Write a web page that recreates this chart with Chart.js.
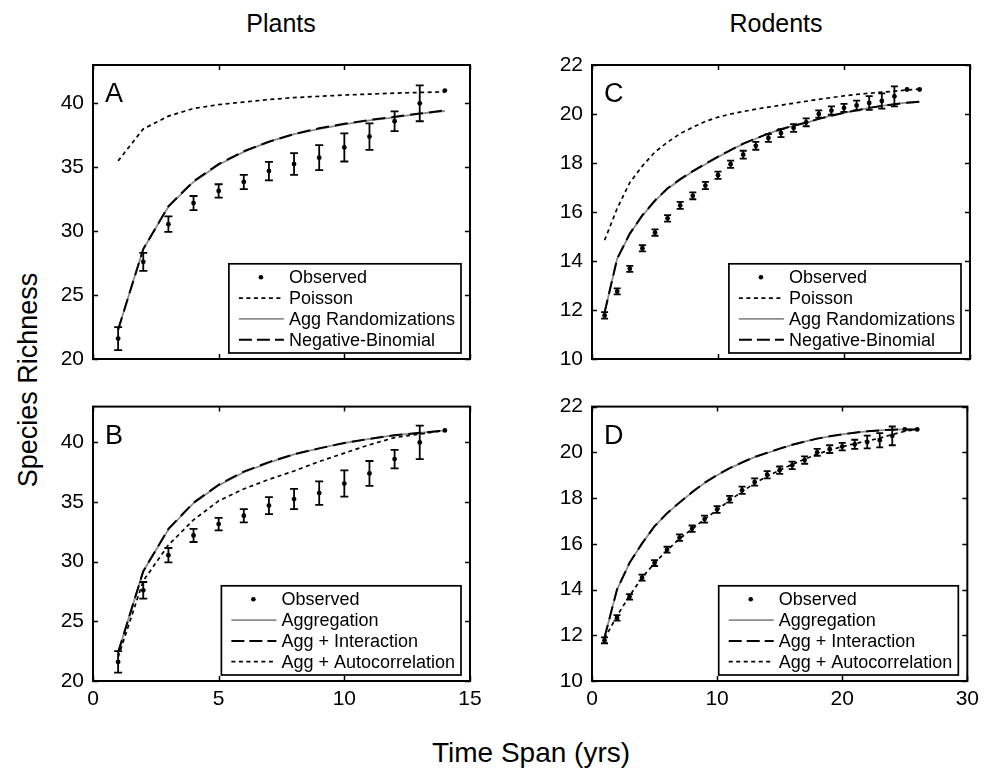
<!DOCTYPE html>
<html>
<head>
<meta charset="utf-8">
<script src="https://cdn.jsdelivr.net/npm/chart.js@4"></script>
<style>
  body { margin: 0; background: #fff; width: 985px; height: 776px; overflow: hidden; position: relative;
         font-family: 'Liberation Sans', Arial, sans-serif; color: #000; }
  canvas { position: absolute; }
  .lbl { position: absolute; white-space: nowrap; transform: translate(-50%, -50%); }
</style>
</head>
<body>
<div class="lbl" style="left:281px; top:23px; font-size:25px">Plants</div>
<div class="lbl" style="left:776px; top:23px; font-size:25px">Rodents</div>
<div class="lbl" style="left:28px; top:380px; font-size:27px; transform: translate(-50%, -50%) rotate(-90deg)">Species Richness</div>
<div class="lbl" style="left:531px; top:753px; font-size:28px">Time Span (yrs)</div>

<canvas id="panelA" width="470" height="345" style="left:30px; top:40px"></canvas>
<canvas id="panelB" width="470" height="360" style="left:30px; top:385px"></canvas>
<canvas id="panelC" width="455" height="345" style="left:530px; top:40px"></canvas>
<canvas id="panelD" width="455" height="360" style="left:530px; top:385px"></canvas>

<script>
// ---- plants (x = 1..14 yrs)
const plantYears = [1, 2, 3, 4, 5, 6, 7, 8, 9, 10, 11, 12, 13, 14];
const plantObserved = [21.6, 27.6, 30.55, 32.2, 33.15, 33.85, 34.7, 35.25, 35.75, 36.55, 37.4, 38.6, 40.0, 41.0];
const plantObservedErr = [0.9, 0.7, 0.6, 0.55, 0.52, 0.56, 0.72, 0.85, 0.98, 1.1, 1.04, 0.77, 1.4, 0];
const plantPoisson = [35.5, 38.0, 39.0, 39.6, 39.9, 40.1, 40.3, 40.45, 40.55, 40.65, 40.72, 40.8, 40.85, 40.9];
const plantAggRand = [22.3, 28.6, 31.9, 33.85, 35.2, 36.2, 37.0, 37.6, 38.0, 38.36, 38.67, 38.9, 39.2, 39.4];
const plantNegBin = [22.3, 28.6, 31.95, 33.9, 35.25, 36.25, 37.0, 37.6, 38.05, 38.4, 38.7, 38.95, 39.2, 39.45];
const plantAggregation = [22.4, 29.2, 32.7, 34.9, 36.4, 37.5, 38.3, 39.0, 39.5, 39.95, 40.3, 40.6, 40.8, 41.0];
const plantAggInteraction = [22.4, 29.2, 32.75, 34.95, 36.45, 37.55, 38.35, 39.0, 39.5, 39.95, 40.3, 40.6, 40.8, 41.0];
const plantAggAutocorr = [22.0, 28.4, 31.4, 33.5, 35.1, 36.1, 36.9, 37.6, 38.4, 39.1, 39.8, 40.4, 40.7, 41.0];

// ---- rodents (x = 1..26 yrs)
const rodentYears = [1, 2, 3, 4, 5, 6, 7, 8, 9, 10, 11, 12, 13, 14, 15, 16, 17, 18, 19, 20, 21, 22, 23, 24, 25, 26];
const rodentObserved = [11.78, 12.76, 13.68, 14.52, 15.16, 15.74, 16.27, 16.66, 17.08, 17.5, 17.95, 18.34, 18.7, 19.02, 19.22, 19.43, 19.66, 20.0, 20.14, 20.25, 20.35, 20.45, 20.53, 20.72, 21.0, 21.0];
const rodentObservedErr = [0.13, 0.12, 0.12, 0.13, 0.13, 0.13, 0.14, 0.14, 0.15, 0.15, 0.15, 0.16, 0.16, 0.16, 0.16, 0.16, 0.16, 0.15, 0.17, 0.16, 0.2, 0.28, 0.31, 0.41, 0, 0];
const rodentPoisson = [14.85, 16.15, 17.2, 17.88, 18.45, 18.85, 19.2, 19.46, 19.7, 19.87, 20.0, 20.1, 20.2, 20.28, 20.36, 20.44, 20.52, 20.6, 20.67, 20.74, 20.8, 20.85, 20.89, 20.93, 20.98, 21.02];
const rodentAggRand = [11.9, 14.1, 15.1, 15.85, 16.45, 16.95, 17.32, 17.65, 17.95, 18.24, 18.52, 18.78, 18.99, 19.2, 19.38, 19.52, 19.64, 19.8, 19.93, 20.05, 20.15, 20.25, 20.33, 20.4, 20.46, 20.5];
const rodentNegBin = [11.9, 14.1, 15.12, 15.87, 16.47, 16.97, 17.34, 17.67, 17.97, 18.26, 18.53, 18.79, 19.0, 19.2, 19.38, 19.52, 19.65, 19.8, 19.93, 20.05, 20.15, 20.25, 20.33, 20.4, 20.46, 20.5];
const rodentAggregation = [11.9, 14.0, 15.16, 16.01, 16.76, 17.33, 17.8, 18.25, 18.66, 19.0, 19.3, 19.55, 19.79, 19.97, 20.15, 20.33, 20.47, 20.6, 20.7, 20.79, 20.86, 20.92, 20.96, 20.99, 21.0, 21.0];
const rodentAggInteraction = [11.9, 14.0, 15.17, 16.02, 16.77, 17.34, 17.81, 18.26, 18.67, 19.01, 19.31, 19.56, 19.8, 19.98, 20.16, 20.33, 20.47, 20.6, 20.7, 20.79, 20.86, 20.92, 20.96, 20.99, 21.0, 21.0];
const rodentAggAutocorr = [11.85, 12.85, 13.72, 14.52, 15.15, 15.72, 16.22, 16.65, 17.07, 17.48, 17.9, 18.28, 18.65, 18.95, 19.22, 19.47, 19.7, 19.92, 20.1, 20.25, 20.38, 20.5, 20.62, 20.78, 20.92, 21.0];

// ---- ticks
const plantXTicks = [0, 5, 10, 15];
const plantYTicks = [20, 25, 30, 35, 40];
const rodentXTicks = [0, 10, 20, 30];
const rodentYTicks = [10, 12, 14, 16, 18, 20, 22];

const FONT = "'Liberation Sans', Arial, sans-serif";
Chart.defaults.font.family = FONT;
Chart.defaults.color = '#000';

const pts = (xs, ys) => xs.map((x, i) => ({ x: x, y: ys[i] }));

function observed(xs, ys) {
  return { label: 'Observed', data: pts(xs, ys), showLine: false, order: 0,
           pointRadius: 2.4, pointBackgroundColor: '#000', pointBorderWidth: 0, borderColor: '#000' };
}
function curve(label, xs, ys, style, order) {
  const s = {
    dotted: { borderColor: '#000', borderDash: [4, 3.5], borderWidth: 1.7 },
    gray:   { borderColor: '#8c8c8c', borderDash: [], borderWidth: 1.8 },
    long:   { borderColor: '#000', borderDash: [13, 6], borderWidth: 2 }
  }[style];
  return Object.assign({ label: label, data: pts(xs, ys), pointRadius: 0, tension: 0, fill: false, order: order }, s);
}

// draws inward ticks, the box, error bars, the panel letter and the boxed legend
const panelFrame = {
  id: 'panelFrame',
  afterDatasetsDraw(chart, args, opts) {
    const ctx = chart.ctx, xs = chart.scales.x, ys = chart.scales.y;
    const obs = chart.data.datasets[0].data;
    ctx.save();
    ctx.strokeStyle = '#000';
    ctx.lineWidth = 1.8;
    obs.forEach((p, i) => {
      const e = opts.errors[i];
      if (!e) return;
      const px = xs.getPixelForValue(p.x);
      const top = ys.getPixelForValue(p.y + e);
      const bot = ys.getPixelForValue(p.y - e);
      ctx.beginPath();
      ctx.moveTo(px, top); ctx.lineTo(px, bot);
      ctx.moveTo(px - opts.cap, top); ctx.lineTo(px + opts.cap, top);
      ctx.moveTo(px - opts.cap, bot); ctx.lineTo(px + opts.cap, bot);
      ctx.stroke();
    });
    ctx.restore();
  },
  afterDraw(chart, args, opts) {
    const ctx = chart.ctx, a = chart.chartArea;
    const xs = chart.scales.x, ys = chart.scales.y;
    ctx.save();
    ctx.strokeStyle = '#000';
    ctx.lineWidth = 1.5;
    ctx.setLineDash([]);
    ctx.beginPath();
    xs.ticks.forEach(t => {
      const px = Math.round(xs.getPixelForValue(t.value)) + 0.5;
      ctx.moveTo(px, a.bottom); ctx.lineTo(px, a.bottom - 5);
      ctx.moveTo(px, a.top); ctx.lineTo(px, a.top + 5);
    });
    ys.ticks.forEach(t => {
      const py = Math.round(ys.getPixelForValue(t.value)) + 0.5;
      ctx.moveTo(a.left, py); ctx.lineTo(a.left + 5, py);
      ctx.moveTo(a.right, py); ctx.lineTo(a.right - 5, py);
    });
    ctx.stroke();
    ctx.lineWidth = 2;
    ctx.strokeRect(a.left, a.top, a.right - a.left, a.bottom - a.top);

    // panel letter
    ctx.fillStyle = '#000';
    ctx.font = '27px ' + FONT;
    ctx.textBaseline = 'alphabetic';
    ctx.fillText(opts.letter, a.left + 12, a.top + 37);

    // legend
    const items = chart.data.datasets;
    ctx.font = '18px ' + FONT;
    const maxW = Math.max(...items.map(d => ctx.measureText(d.label).width));
    const rowH = 20.8;
    const boxR = a.right - 9;
    const boxL = boxR - (60 + maxW + 6);
    const boxB = a.bottom - 6;
    const boxT = boxB - (items.length * rowH + 6);
    ctx.fillStyle = '#fff';
    ctx.fillRect(boxL, boxT, boxR - boxL, boxB - boxT);
    ctx.lineWidth = 1.7;
    ctx.strokeStyle = '#000';
    ctx.strokeRect(boxL, boxT, boxR - boxL, boxB - boxT);
    items.forEach((d, i) => {
      const cy = boxT + 13.5 + i * rowH;
      if (d.showLine === false) {
        ctx.fillStyle = '#000';
        ctx.beginPath();
        ctx.arc(boxL + 32, cy, 2.3, 0, Math.PI * 2);
        ctx.fill();
      } else {
        ctx.strokeStyle = d.borderColor;
        ctx.lineWidth = d.borderWidth;
        ctx.setLineDash(d.borderDash.length ? (d.borderDash[0] > 8 ? [13, 5] : [4, 3.5]) : []);
        ctx.beginPath();
        ctx.moveTo(boxL + 10, cy); ctx.lineTo(boxL + 55, cy);
        ctx.stroke();
        ctx.setLineDash([]);
      }
      ctx.fillStyle = '#000';
      ctx.textBaseline = 'middle';
      ctx.fillText(d.label, boxL + 60, cy + 1);
    });
    ctx.restore();
  }
};

function makePanel(id, geo, datasets, frame) {
  new Chart(document.getElementById(id), {
    type: 'line',
    data: { datasets: datasets },
    plugins: [panelFrame],
    options: {
      responsive: false,
      animation: false,
      events: [],
      layout: { padding: { top: geo.padTop, right: geo.padRight, left: 0, bottom: 0 } },
      plugins: { legend: { display: false }, tooltip: { enabled: false }, panelFrame: frame },
      scales: {
        x: {
          type: 'linear', min: geo.xMin, max: geo.xMax,
          grid: { display: false, drawTicks: false }, border: { display: false },
          afterBuildTicks: s => { s.ticks = geo.xTicks.map(v => ({ value: v })); },
          afterFit: s => { s.height = geo.xAxisH; },
          ticks: { display: geo.showX, color: '#000', font: { size: 21 }, padding: 6, maxRotation: 0, autoSkip: false }
        },
        y: {
          type: 'linear', min: geo.yMin, max: geo.yMax,
          grid: { display: false, drawTicks: false }, border: { display: false },
          afterBuildTicks: s => { s.ticks = geo.yTicks.map(v => ({ value: v })); },
          afterFit: s => { s.width = geo.yAxisW; },
          ticks: { color: '#000', font: { size: 21 }, padding: 9, autoSkip: false }
        }
      }
    }
  });
}

const plantTop = { xMin: 0, xMax: 15, yMin: 20, yMax: 43, xTicks: plantXTicks, yTicks: plantYTicks,
                   padTop: 25, padRight: 30, yAxisW: 63, xAxisH: 26, showX: false };
const plantBottom = Object.assign({}, plantTop, { padTop: 17, xAxisH: 64, showX: true });
const rodentTop = { xMin: 0, xMax: 30, yMin: 10, yMax: 22, xTicks: rodentXTicks, yTicks: rodentYTicks,
                    padTop: 25, padRight: 15, yAxisW: 62, xAxisH: 26, showX: false };
const rodentBottom = Object.assign({}, rodentTop, { padTop: 17, xAxisH: 64, showX: true });

makePanel('panelA', plantTop, [
  observed(plantYears, plantObserved),
  curve('Poisson', plantYears, plantPoisson, 'dotted', 1),
  curve('Agg Randomizations', plantYears, plantAggRand, 'gray', 2),
  curve('Negative-Binomial', plantYears, plantNegBin, 'long', 1)
], { letter: 'A', errors: plantObservedErr, cap: 4 });

makePanel('panelB', plantBottom, [
  observed(plantYears, plantObserved),
  curve('Aggregation', plantYears, plantAggregation, 'gray', 2),
  curve('Agg + Interaction', plantYears, plantAggInteraction, 'long', 1),
  curve('Agg + Autocorrelation', plantYears, plantAggAutocorr, 'dotted', 1)
], { letter: 'B', errors: plantObservedErr, cap: 4 });

makePanel('panelC', rodentTop, [
  observed(rodentYears, rodentObserved),
  curve('Poisson', rodentYears, rodentPoisson, 'dotted', 1),
  curve('Agg Randomizations', rodentYears, rodentAggRand, 'gray', 2),
  curve('Negative-Binomial', rodentYears, rodentNegBin, 'long', 1)
], { letter: 'C', errors: rodentObservedErr, cap: 3.5 });

makePanel('panelD', rodentBottom, [
  observed(rodentYears, rodentObserved),
  curve('Aggregation', rodentYears, rodentAggregation, 'gray', 2),
  curve('Agg + Interaction', rodentYears, rodentAggInteraction, 'long', 1),
  curve('Agg + Autocorrelation', rodentYears, rodentAggAutocorr, 'dotted', 1)
], { letter: 'D', errors: rodentObservedErr, cap: 3.5 });
</script>
</body>
</html>
